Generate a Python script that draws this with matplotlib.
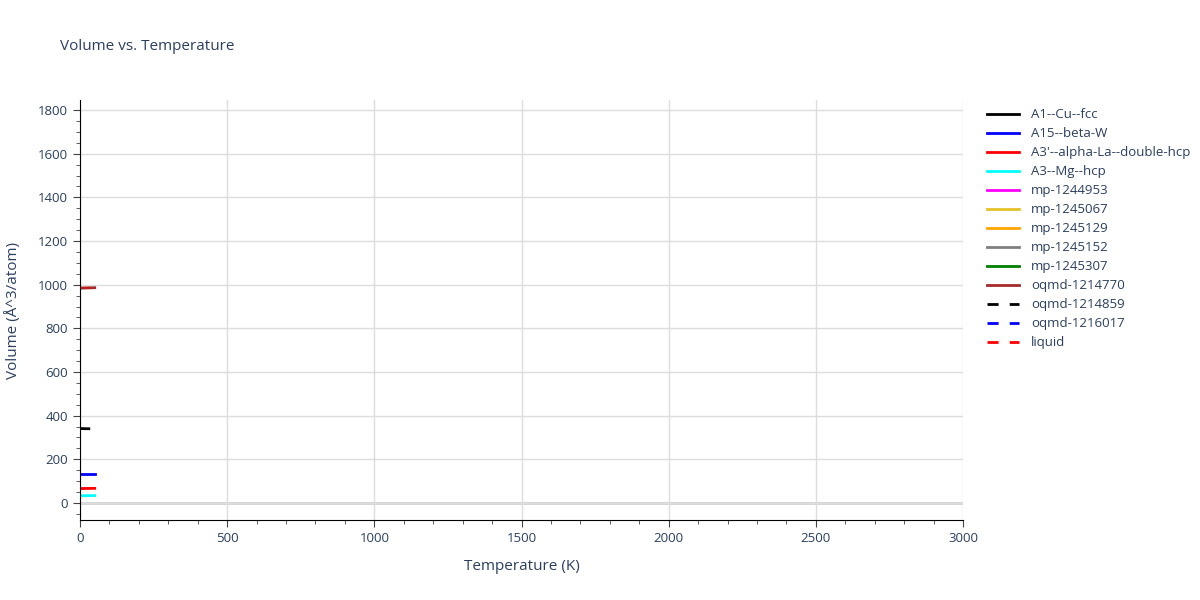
import numpy as np
import matplotlib
matplotlib.use("Agg")
import matplotlib.pyplot as plt
from matplotlib.ticker import MultipleLocator

plt.rcParams['font.family'] = ['Open Sans', 'DejaVu Sans']

# series data (temperature K, volume A^3/atom)
names = ['A1--Cu--fcc', 'A15--beta-W', "A3'--alpha-La--double-hcp", 'A3--Mg--hcp',
         'mp-1244953', 'mp-1245067', 'mp-1245129', 'mp-1245152', 'mp-1245307',
         'oqmd-1214770', 'oqmd-1214859', 'oqmd-1216017', 'liquid']
colors = ['black', 'blue', 'red', 'cyan', 'magenta', '#e6c229', 'orange', 'gray',
          'green', 'brown', 'black', 'blue', 'red']
styles = ['-'] * 10 + ['--'] * 3

temps = [[0, 30], [0, 50], [0, 50], [0, 50], [], [], [], [], [],
         [0, 50], [], [], []]
volumes = [[341, 340], [131, 131], [66, 67], [33, 34], [], [], [], [], [],
           [984, 986], [], [], []]
# liquid: two short segments hidden under the solid lines
liquid_T = [0, 50]
liquid_low = [67, 68]
liquid_high = [986, 988]

text_c = '#2a3f5f'
fig = plt.figure(figsize=(12, 6), dpi=100)
ax = fig.add_axes([80 / 1200, 1 - 520 / 600, (963 - 80) / 1200, 420 / 600])

for i, name in enumerate(names):
    if name == 'liquid':
        ax.plot(liquid_T, liquid_low, color=colors[i], ls=styles[i], lw=2, alpha=0.25)
        ax.plot(liquid_T, liquid_high, color=colors[i], ls=styles[i], lw=2, alpha=0.25)
        ax.plot([], [], color=colors[i], ls=(0, (4, 4)), lw=2, label=name)
    else:
        ls = styles[i] if styles[i] == '-' else (0, (4, 4))
        ax.plot(temps[i], volumes[i], color=colors[i], ls=ls, lw=2, label=name)

ax.set_xlim(0, 3000)
ax.set_ylim(-78, 1846)
ax.xaxis.set_major_locator(MultipleLocator(500))
ax.xaxis.set_minor_locator(MultipleLocator(100))
ax.yaxis.set_major_locator(MultipleLocator(200))
ax.yaxis.set_minor_locator(MultipleLocator(50))
ax.grid(True, which='major', color='#dddddd', lw=1)
ax.axhline(0, color='#d0d0d0', lw=2, zorder=0.5)
ax.set_axisbelow(True)
for s in ['top', 'right']:
    ax.spines[s].set_visible(False)
ax.spines['left'].set_color('black')
ax.spines['bottom'].set_color('black')
ax.tick_params(which='major', length=5, color='#444444', labelcolor=text_c, labelsize=9.5)
ax.tick_params(which='minor', length=3, color='#444444')

ax.set_xlabel('Temperature (K)', color=text_c, fontsize=11, labelpad=10)
ax.set_ylabel('Volume (Å^3/atom)', color=text_c, fontsize=11, labelpad=12)
fig.text(60 / 1200, 1 - 46 / 600, 'Volume vs. Temperature', color=text_c, fontsize=11,
         va='center')

leg = ax.legend(loc='upper left', bbox_to_anchor=(1.017, 1.002), frameon=False,
                fontsize=9.5, handlelength=2.4, handletextpad=0.9,
                labelspacing=0.455, borderaxespad=0.3)
for t in leg.get_texts():
    t.set_color(text_c)

fig.savefig('out.png', dpi=100)
